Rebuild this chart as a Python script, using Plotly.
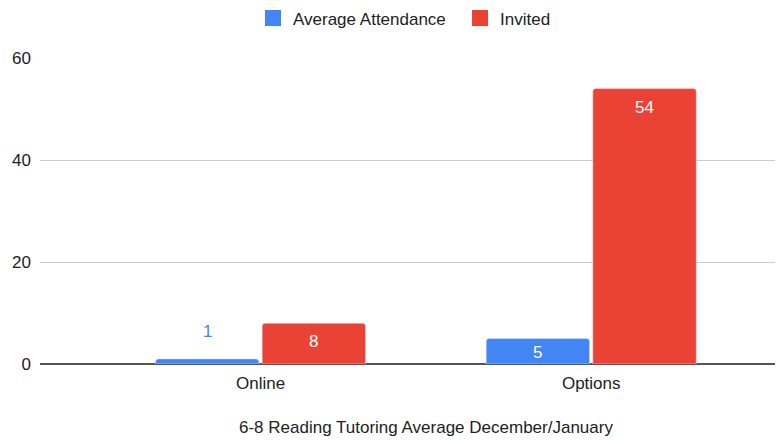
import plotly.graph_objects as go

categories = ["Online", "Options"]
avg_attendance = [1, 5]
invited = [8, 54]
series_names = ["Average Attendance", "Invited"]
x_title = "6-8 Reading Tutoring Average December/January"
y_ticks = [0, 20, 40, 60]

BLUE = "#4285F4"
RED = "#EA4335"
FONT = "Arial, Liberation Sans, sans-serif"
TXT = "#222222"

# layout geometry (page has 8px body margin -> figure drawn at (8,8))
W, H = 775, 433
ML, MR, MT, MB = 32, 0, 50, 77
X_RANGE = [-0.667, 1.58]
Y_RANGE = [0, 60]
BARGAP, GROUPGAP = 0.355, 0.03

plot_w = W - ML - MR
plot_h = H - MT - MB
px_per_cat = plot_w / (X_RANGE[1] - X_RANGE[0])
px_per_unit = plot_h / (Y_RANGE[1] - Y_RANGE[0])
slot_px = (1 - BARGAP) / 2 * px_per_cat

fig = go.Figure()
for name, vals, color in [(series_names[0], avg_attendance, BLUE),
                          (series_names[1], invited, RED)]:
    fig.add_trace(go.Bar(name=name, x=categories, y=vals,
                         marker=dict(color=color, cornerradius=3),
                         showlegend=False, legendgroup=name))
    # legend proxy with larger square swatch
    fig.add_trace(go.Scatter(name=name, x=[None], y=[None], mode="markers",
                             marker=dict(color=color, symbol="square", size=16),
                             legendgroup=name, showlegend=True))

# value labels
for vals, color, side in [(avg_attendance, BLUE, -1), (invited, RED, 1)]:
    for c, v in zip(categories, vals):
        bar_px = v * px_per_unit
        if bar_px < 20:
            fig.add_annotation(x=c, y=v, xshift=side * slot_px / 2, yshift=27,
                               text=str(v), showarrow=False, yanchor="middle",
                               font=dict(color=color, size=17, family=FONT))
        else:
            fig.add_annotation(x=c, y=v, xshift=side * slot_px / 2,
                               yshift=-min(18.5, bar_px / 2 + 1),
                               text=str(v), showarrow=False, yanchor="middle",
                               font=dict(color="white", size=17, family=FONT))

fig.add_annotation(x=0.5195, y=-0.209, xref="paper", yref="paper",
                   text=x_title, showarrow=False, yanchor="middle",
                   font=dict(size=17, color=TXT, family=FONT))

fig.update_layout(
    width=W, height=H,
    margin=dict(l=ML, r=MR, t=MT, b=MB, autoexpand=False),
    paper_bgcolor="white", plot_bgcolor="white",
    barmode="group", bargap=BARGAP, bargroupgap=GROUPGAP,
    font=dict(family=FONT, size=17, color=TXT),
    legend=dict(orientation="h", x=0.2867, xanchor="left",
                y=1.129, yanchor="middle", entrywidth=162,
                font=dict(size=17, color=TXT, family=FONT)),
    showlegend=True,
)
fig.update_xaxes(range=X_RANGE, showgrid=False, showline=False,
                 ticks="", ticklabelstandoff=7,
                 tickfont=dict(size=17, color=TXT, family=FONT))
fig.update_yaxes(range=Y_RANGE, tickvals=y_ticks, showgrid=True,
                 gridcolor="#cccccc", gridwidth=1,
                 zeroline=True, zerolinecolor="#555555", zerolinewidth=2,
                 ticks="", ticklabelstandoff=8,
                 tickfont=dict(size=17, color=TXT, family=FONT))

fig.write_html("out.html")
